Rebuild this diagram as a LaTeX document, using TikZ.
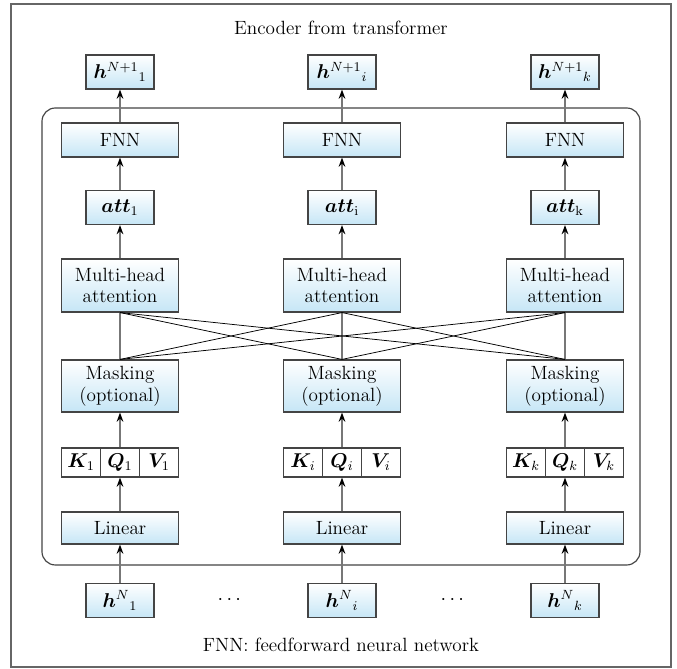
\documentclass[tikz,border=0pt]{standalone}
\usepackage{amsmath,bm}
\usetikzlibrary{arrows.meta}

\definecolor{boxline}{HTML}{444444}
\definecolor{boxblue}{HTML}{C6E6F6}
\definecolor{linkgray}{HTML}{777777}
\definecolor{framegray}{HTML}{666666}

\begin{document}
\begin{tikzpicture}[x=0.6pt,y=-0.6pt,
  every node/.style={font=\fontsize{11.5pt}{13pt}\selectfont},
  blk/.style={draw=boxline,line width=0.7pt,top color=white,bottom color=boxblue,
    minimum width=70.2pt,inner sep=1pt,align=center},
  sml/.style={blk,minimum width=40.8pt,minimum height=20.4pt},
  cell/.style={draw=boxline,line width=0.7pt,fill=white,minimum width=23.4pt,
    minimum height=17.4pt,inner sep=0pt},
  up/.style={draw=linkgray,line width=0.9pt,-{Stealth[black,length=5.5pt,width=4pt]}},
  cross/.style={draw=black,line width=0.45pt}]
  \useasboundingbox (0,0) rectangle (677,669);
  \draw[framegray,line width=0.9pt] (11,4) rectangle (671,667);
  \draw[boxline,line width=0.7pt,rounded corners=8pt] (42,108) rectangle (640,565);

  \node (title) at (341,28) {Encoder from transformer};
  \node (note) at (341,645) {FNN: feedforward neural network};

  \foreach \c/\x/\s in {1/120/1, 2/342/i, 3/565/k} {
    \node[sml] (hout-\c) at (\x,72) {$\bm{h}^{N+1}{}_{\s}$};
    \node[blk,minimum height=20.4pt] (fnn-\c) at (\x,140) {FNN};
    \node[sml] (att-\c) at (\x,207.5) {$\bm{att}_{\mathrm{\s}}$};
    \node[blk,minimum height=31.8pt] (mha-\c) at (\x,285.5) {Multi-head\\attention};
    \node[blk,minimum height=31.2pt] (mask-\c) at (\x,386) {Masking\\(optional)};
    \node[cell] (k-\c) at (\x-39,462.5) {$\bm{K}_{\s}$};
    \node[cell] (q-\c) at (\x,462.5) {$\bm{Q}_{\s}$};
    \node[cell] (v-\c) at (\x+39,462.5) {$\bm{V}_{\s}$};
    \node[blk,minimum height=19.2pt] (lin-\c) at (\x,528) {Linear};
    \node[sml] (hin-\c) at (\x,600.5) {$\bm{h}^{N}{}_{\s}$};

    \draw[up] (hin-\c) -- (lin-\c);
    \draw[up] (lin-\c) -- (q-\c);
    \draw[up] (q-\c) -- (mask-\c);
    \draw[linkgray,line width=0.9pt] (mask-\c) -- (mha-\c);
    \draw[up] (mha-\c) -- (att-\c);
    \draw[up] (att-\c) -- (fnn-\c);
    \draw[up] (fnn-\c) -- (hout-\c);
  }

  % every attention head sees every masked input
  \foreach \a in {1,2,3} {
    \foreach \b in {1,2,3} {
      \ifnum\a=\b\else
        \draw[cross] (mha-\a.south) -- (mask-\b.north);
      \fi
    }
  }

  \node (dots-1) at (231,600) {$\cdots$};
  \node (dots-2) at (454,600) {$\cdots$};
\end{tikzpicture}
\end{document}
